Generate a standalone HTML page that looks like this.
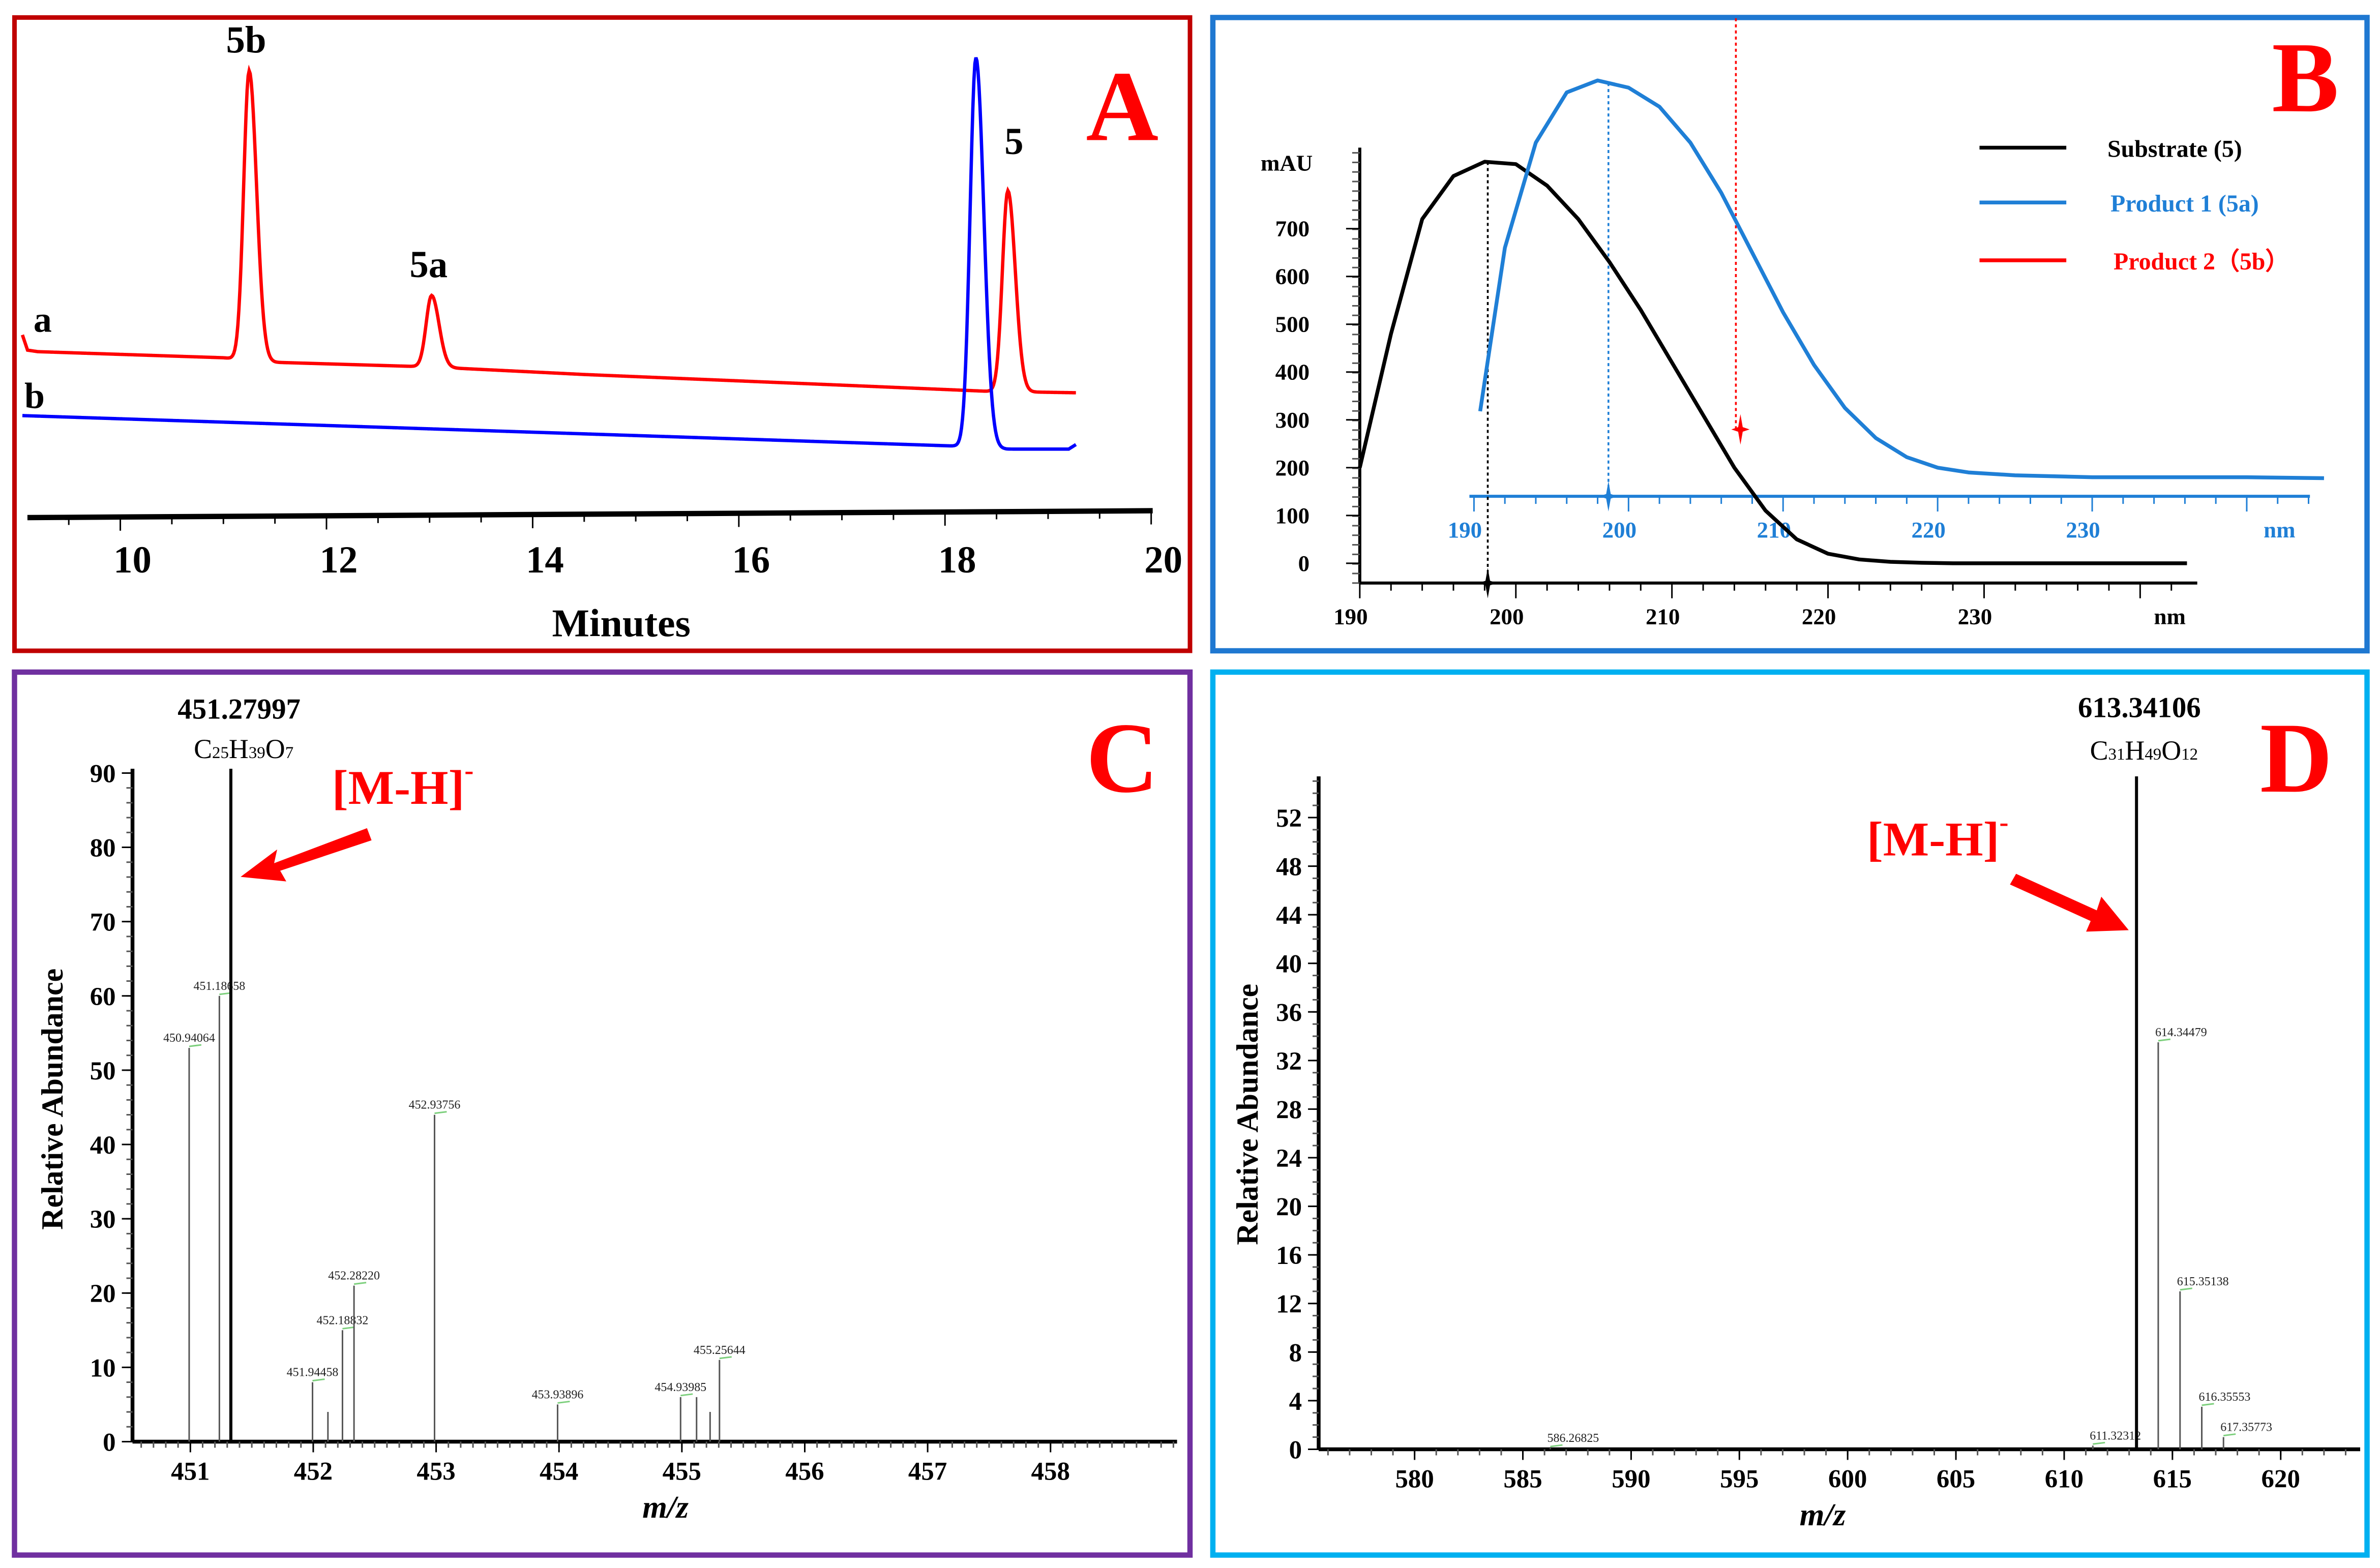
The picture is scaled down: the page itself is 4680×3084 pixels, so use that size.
<!DOCTYPE html>
<html><head><meta charset="utf-8"><style>
html,body{margin:0;padding:0;background:#fff;}
svg{display:block;}
text{font-family:"Liberation Serif",serif;}
</style></head><body>
<svg id="fig" width="4680" height="3084" viewBox="0 0 1563 1030" xmlns="http://www.w3.org/2000/svg">
<rect x="0" y="0" width="1563" height="1030" fill="#fff"/>
<rect x="9.5" y="11.5" width="772" height="416" fill="none" stroke="#c00000" stroke-width="3"/>
<rect x="796.5" y="11.5" width="758" height="416" fill="none" stroke="#1f78d1" stroke-width="3.5"/>
<rect x="9.5" y="441.5" width="772" height="580" fill="none" stroke="#7030a0" stroke-width="3.5"/>
<rect x="796.5" y="441.5" width="758" height="580" fill="none" stroke="#00b0f0" stroke-width="3.5"/>
<g id="gA"></g>
<g id="gB"></g>
<g id="gC"></g>
<g id="gD"></g>
</svg>
<script>
// ---------- Panel A data ----------
const aTicks = [10, 12, 14, 16, 18, 20];
const redPeakTimes = [11.25, 13.02, 18.61];
const redPeakHeights = [190, 47, 132];
const redPeakLabels = ['5b', '5a', '5'];
const redBaseTimes = [9.05, 9.1, 9.2, 11.0, 11.5, 13.0, 14.5, 17.0, 18.4, 19.27];
const redBaseVals = [116, 106, 105, 101, 98, 95, 90, 83, 79, 78];
const bluePeakTimes = [18.3];
const bluePeakHeights = [256];
const blueBaseTimes = [9.05, 14.5, 18.1, 18.6, 19.2, 19.27];
const blueBaseVals = [63, 51, 43, 41, 41, 44];
// ---------- Panel B data ----------
const bTicks = [190, 200, 210, 220, 230];
const bYTicks = [0, 100, 200, 300, 400, 500, 600, 700];
const subNm = [190, 192, 194, 196, 198, 200, 202, 204, 206, 208, 210, 212, 214, 216, 218, 220, 222, 224, 226, 228, 232, 243];
const subVal = [200, 480, 720, 810, 840, 835, 790, 720, 630, 530, 420, 310, 200, 110, 50, 20, 8, 3, 1, 0, 0, 0];
const p1Nm = [190.4, 192, 194, 196, 198, 200, 202, 204, 206, 208, 210, 212, 214, 216, 218, 220, 222, 225, 230, 240, 245];
const p1Val = [318, 660, 880, 985, 1010, 995, 955, 880, 775, 650, 525, 415, 325, 262, 222, 200, 190, 184, 180, 180, 178];
const subMaxNm = 198.2, p1MaxNm = 198.7, p2Nm = 214.6, p2Val = 280;
// ---------- Panel C data ----------
const cTicks = [451, 452, 453, 454, 455, 456, 457, 458];
const cYTicks = [0, 10, 20, 30, 40, 50, 60, 70, 80, 90];
const cMz = [450.94064, 451.18658, 451.27997, 451.94458, 452.07, 452.18832, 452.28220, 452.93756, 453.93896, 454.93985, 455.07, 455.18, 455.25644];
const cAb = [53, 60, 91, 8, 4, 15, 21, 44, 5, 6, 6, 4, 11];
const cLab = ['450.94064', '451.18658', '', '451.94458', '', '452.18832', '452.28220', '452.93756', '453.93896', '454.93985', '', '', '455.25644'];
// ---------- Panel D data ----------
const dTicks = [580, 585, 590, 595, 600, 605, 610, 615, 620];
const dYTicks = [0, 4, 8, 12, 16, 20, 24, 28, 32, 36, 40, 44, 48, 52];
const dMz = [586.26825, 611.32312, 613.34106, 614.34479, 615.35138, 616.35553, 617.35773];
const dAb = [0.1, 0.3, 55, 33.5, 13, 3.5, 1];
const dLab = ['586.26825', '611.32312', '', '614.34479', '615.35138', '616.35553', '617.35773'];

const NS = 'http://www.w3.org/2000/svg';
function mk(parent, tag, attrs, txt) {
  const e = document.createElementNS(NS, tag);
  for (const k in attrs) e.setAttribute(k, attrs[k]);
  if (txt !== undefined) e.textContent = txt;
  parent.appendChild(e);
  return e;
}
function interp(xs, ys, x) {
  if (x <= xs[0]) return ys[0];
  for (let i = 1; i < xs.length; i++) if (x <= xs[i]) { const f = (x - xs[i-1]) / (xs[i] - xs[i-1]); return ys[i-1] + f * (ys[i] - ys[i-1]); }
  return ys[ys.length - 1];
}

// ================= Panel A =================
(function () {
  const g = document.getElementById('gA');
  const xA = t => 79 + (t - 10) * 67.7;
  const yA = v => 336 - v;
  let ax = mk(g, 'line', {x1: 18, y1: 340, x2: 757, y2: 335.5, stroke: '#000', 'stroke-width': 3.5});
   
  for (let t = 9; t <= 20; t += 0.5) {
    const x = xA(t); if (x < 18) continue;
    const y = 340 - (x - 18) * 4.5 / 739;
    const major = Math.abs(t - Math.round(t / 2) * 2) < 1e-6;
    const tk = mk(g, 'line', {x1: x, y1: y, x2: x, y2: y + (major ? 9 : 5), stroke: '#000', 'stroke-width': 1});
     
  }
  aTicks.forEach(t => {
    const l = mk(g, 'text', {x: xA(t) + 8, y: 376, 'font-size': 25, 'font-weight': 'bold', 'text-anchor': 'middle'}, String(t));
     
  });
  const tl = mk(g, 'text', {x: 408, y: 418, 'font-size': 26, 'font-weight': 'bold', 'text-anchor': 'middle'}, 'Minutes');
   

  function trace(bt, bv, pt, ph, w, t0, t1) {
    let d = '';
    for (let t = t0; t <= t1 + 1e-9; t += 0.01) {
      let v = interp(bt, bv, t);
      for (let i = 0; i < pt.length; i++) {
        const dt = t - pt[i]; const ww = dt > 0 ? w * 1.35 : w;
        v += ph[i] * Math.exp(-(dt / ww) * (dt / ww));
      }
      d += (d ? 'L' : 'M') + xA(t).toFixed(2) + ',' + yA(v).toFixed(2);
    }
    return d;
  }
  const red = mk(g, 'path', {d: trace(redBaseTimes, redBaseVals, redPeakTimes, redPeakHeights, 0.075, 9.05, 19.27), fill: 'none', stroke: '#ff0000', 'stroke-width': 2.2});
   
  const blue = mk(g, 'path', {d: trace(blueBaseTimes, blueBaseVals, bluePeakTimes, bluePeakHeights, 0.08, 9.05, 19.27), fill: 'none', stroke: '#0000ff', 'stroke-width': 2.2});
   
  redPeakTimes.forEach((t, i) => {
    const top = yA(interp(redBaseTimes, redBaseVals, t) + redPeakHeights[i]);
    const l = mk(g, 'text', {x: xA(t) + (i === 2 ? 4 : -2), y: top - 12 - (i === 2 ? 12 : 0), 'font-size': 25, 'font-weight': 'bold', 'text-anchor': 'middle'}, redPeakLabels[i]);
     
  });
  let t1 = mk(g, 'text', {x: 22, y: 218, 'font-size': 24, 'font-weight': 'bold'}, 'a');
   
  let t2 = mk(g, 'text', {x: 16, y: 268, 'font-size': 24, 'font-weight': 'bold'}, 'b');
   
  let pl = mk(g, 'text', {x: 737, y: 92, 'font-size': 66, 'font-weight': 'bold', fill: '#ff0000', 'text-anchor': 'middle'}, 'A');
   
})();

// ================= Panel B =================
(function () {
  const g = document.getElementById('gB');
  const xK = nm => 893 + (nm - 190) * 10.25;
  const xBl = nm => 968 + (nm - 190) * 10.15;
  const yB = v => 370 - v * 0.314;
  let a = mk(g, 'line', {x1: 893, y1: 97, x2: 893, y2: 383, stroke: '#000', 'stroke-width': 2});
   
  for (let y = 383; y >= 100; y -= 6.28) {
    const tk = mk(g, 'line', {x1: 888, y1: y, x2: 893, y2: y, stroke: '#555', 'stroke-width': 1});
     
  }
  bYTicks.forEach(v => {
    const tk = mk(g, 'line', {x1: 884, y1: yB(v), x2: 893, y2: yB(v), stroke: '#000', 'stroke-width': 1});
     
    const l = mk(g, 'text', {x: 860, y: yB(v) + 5, 'font-size': 15, 'font-weight': 'bold', 'text-anchor': 'end'}, String(v));
     
  });
  let mau = mk(g, 'text', {x: 845, y: 112, 'font-size': 15, 'font-weight': 'bold', 'text-anchor': 'middle'}, 'mAU');
   
  let xa = mk(g, 'line', {x1: 893, y1: 383, x2: 1443, y2: 383, stroke: '#000', 'stroke-width': 2});
   
  for (let nm = 190; nm <= 243; nm += 2) {
    const tk = mk(g, 'line', {x1: xK(nm), y1: 383, x2: xK(nm), y2: 383 + (nm % 10 === 0 ? 10 : 5), stroke: '#000', 'stroke-width': 1});
     
  }
  bTicks.forEach(nm => {
    const l = mk(g, 'text', {x: xK(nm) - 6, y: 410, 'font-size': 15, 'font-weight': 'bold', 'text-anchor': 'middle'}, String(nm));
     
  });
  let nmL = mk(g, 'text', {x: 1425, y: 410, 'font-size': 15, 'font-weight': 'bold', 'text-anchor': 'middle'}, 'nm');
   
  let bx = mk(g, 'line', {x1: 965, y1: 326, x2: 1517, y2: 326, stroke: '#1f7fd6', 'stroke-width': 2});
   
  for (let nm = 190; nm <= 244; nm += 2) {
    const tk = mk(g, 'line', {x1: xBl(nm), y1: 326, x2: xBl(nm), y2: 326 + (nm % 10 === 0 ? 10 : 5), stroke: '#1f7fd6', 'stroke-width': 1});
     
  }
  bTicks.forEach(nm => {
    const l = mk(g, 'text', {x: xBl(nm) - 6, y: 353, 'font-size': 15, 'font-weight': 'bold', fill: '#1f7fd6', 'text-anchor': 'middle'}, String(nm));
     
  });
  let nmB = mk(g, 'text', {x: 1497, y: 353, 'font-size': 15, 'font-weight': 'bold', fill: '#1f7fd6', 'text-anchor': 'middle'}, 'nm');
   
  let v1 = mk(g, 'line', {x1: xK(subMaxNm), y1: yB(interp(subNm, subVal, subMaxNm)), x2: xK(subMaxNm), y2: 383, stroke: '#000', 'stroke-width': 1.2, 'stroke-dasharray': '2,2'});
   
  let v2 = mk(g, 'line', {x1: xBl(p1MaxNm), y1: yB(interp(p1Nm, p1Val, p1MaxNm)), x2: xBl(p1MaxNm), y2: 326, stroke: '#1f7fd6', 'stroke-width': 1.2, 'stroke-dasharray': '2,2'});
   
  let v3 = mk(g, 'line', {x1: 1140, y1: 12, x2: 1140, y2: yB(p2Val), stroke: '#ff0000', 'stroke-width': 1.2, 'stroke-dasharray': '2,2'});
   
  function star(x, y, c, nm) {
    const s = mk(g, 'path', {d: `M${x},${y-10}L${x+1.5},${y-1.5}L${x+6},${y}L${x+1.5},${y+1.5}L${x},${y+10}L${x-1.5},${y+1.5}L${x-6},${y}L${x-1.5},${y-1.5}Z`, fill: c});
     
  }
  star(xK(subMaxNm), 383, '#000', 'marker-substrate');
  star(xBl(p1MaxNm), 326, '#1f7fd6', 'marker-product1');
  star(1143, yB(p2Val), '#ff0000', 'marker-product2');
  let d = '';
  subNm.forEach((nm, i) => { d += (i ? 'L' : 'M') + xK(nm).toFixed(2) + ',' + yB(subVal[i]).toFixed(2); });
  let s1 = mk(g, 'path', {d: d, fill: 'none', stroke: '#000', 'stroke-width': 2.5, 'stroke-linejoin': 'round'});
   
  d = '';
  p1Nm.forEach((nm, i) => { d += (i ? 'L' : 'M') + xBl(nm).toFixed(2) + ',' + yB(p1Val[i]).toFixed(2); });
  let s2 = mk(g, 'path', {d: d, fill: 'none', stroke: '#1f7fd6', 'stroke-width': 2.5, 'stroke-linejoin': 'round'});
   
  const legC = ['#000', '#1f7fd6', '#ff0000'];
  const legT = ['Substrate (5)', 'Product 1 (5a)', 'Product 2（5b）'];
  const legY = [97, 133, 171];
  legT.forEach((t, i) => {
    const ln = mk(g, 'line', {x1: 1300, y1: legY[i], x2: 1357, y2: legY[i], stroke: legC[i], 'stroke-width': 2.5});
     
    const tx = mk(g, 'text', {x: 1384 + i * 2, y: legY[i] + 6, 'font-size': 16, 'font-weight': 'bold', fill: legC[i], 'font-family': '"Liberation Serif","Noto Serif CJK SC",serif'}, t);
     
  });
  let pl = mk(g, 'text', {x: 1514, y: 73, 'font-size': 66, 'font-weight': 'bold', fill: '#ff0000', 'text-anchor': 'middle'}, 'B');
   
})();

// ================= Mass spectra =================
function spectrum(g, o) {
  const xS = m => o.x0 + (m - o.m0) * o.kx;
  const yS = v => o.y0 - v * o.ky;
  const maxAb = Math.max.apply(null, o.ab);
  let ya = mk(g, 'line', {x1: o.ax, y1: o.yTop, x2: o.ax, y2: o.y0, stroke: '#000', 'stroke-width': 2.5});
   
  let xa = mk(g, 'line', {x1: o.ax, y1: o.y0, x2: o.axEnd, y2: o.y0, stroke: '#000', 'stroke-width': 2.5});
   
  for (let v = 0; yS(v) >= o.yTop; v += o.yMinor) {
    const tk = mk(g, 'line', {x1: o.ax - 4, y1: yS(v), x2: o.ax, y2: yS(v), stroke: '#555', 'stroke-width': 1});
     
  }
  o.yTicks.forEach(v => {
    const tk = mk(g, 'line', {x1: o.ax - 7, y1: yS(v), x2: o.ax, y2: yS(v), stroke: '#000', 'stroke-width': 1});
     
    const l = mk(g, 'text', {x: o.ax - 11, y: yS(v) + 6, 'font-size': 17, 'font-weight': 'bold', 'text-anchor': 'end'}, String(v));
     
  });
  for (let m = o.mMinorStart; o.tx0 + (m - o.m0) * o.tkx <= o.axEnd; m += o.xMinor) {
    const x = o.tx0 + (m - o.m0) * o.tkx;
    if (x < o.ax) continue;
    const tk = mk(g, 'line', {x1: x, y1: o.y0, x2: x, y2: o.y0 + 4, stroke: '#555', 'stroke-width': 1});
     
  }
  o.xTicks.forEach(m => {
    const x = o.tx0 + (m - o.m0) * o.tkx;
    const tk = mk(g, 'line', {x1: x, y1: o.y0, x2: x, y2: o.y0 + 7, stroke: '#000', 'stroke-width': 1});
     
    const l = mk(g, 'text', {x: x, y: o.y0 + 25, 'font-size': 17, 'font-weight': 'bold', 'text-anchor': 'middle'}, String(m));
     
  });
  const xt = mk(g, 'text', {x: o.xTitleX, y: o.y0 + 50, 'font-size': 21, 'font-weight': 'bold', 'font-style': 'italic', 'text-anchor': 'middle'}, 'm/z');
   
  const yt = mk(g, 'text', {x: 0, y: 0, 'font-size': 20, 'font-weight': 'bold', 'text-anchor': 'middle', transform: `translate(${o.yTitleX},${o.yTitleY}) rotate(-90)`}, 'Relative Abundance');
   
  o.mz.forEach((m, i) => {
    const main = o.ab[i] === maxAb;
    const top = main ? o.yTop : yS(o.ab[i]);
    const b = mk(g, 'line', {x1: xS(m), y1: o.y0, x2: xS(m), y2: top, stroke: main ? '#000' : '#555', 'stroke-width': main ? 2 : 1});
     
    if (o.lab[i]) {
      const gl = mk(g, 'line', {x1: xS(m), y1: top - 1, x2: xS(m) + 8, y2: top - 2, stroke: '#7ccf7c', 'stroke-width': 1});
       
      const l = mk(g, 'text', {x: xS(m) + (o.labDx || 0), y: top - 4, 'font-size': 8, fill: '#222', 'text-anchor': o.labAnchor || 'middle', 'font-family': '"Liberation Sans",sans-serif'}, o.lab[i]);
       
    }
  });
  return xS;
}

(function () {
  const g = document.getElementById('gC');
  spectrum(g, {x0: 129, m0: 451, kx: 80.7, tx0: 125, tkx: 80.7, y0: 947, ky: 4.88, ax: 87, axEnd: 773, yTop: 505,
    yTicks: cYTicks, yMinor: 2, xTicks: cTicks, xMinor: 0.1, mMinorStart: 450.5,
    mz: cMz, ab: cAb, lab: cLab, xTitleX: 437, yTitleX: 41, yTitleY: 722});
  const m1 = mk(g, 'text', {x: 157, y: 472, 'font-size': 19, 'font-weight': 'bold', 'text-anchor': 'middle'}, '451.27997');
   
  const f = mk(g, 'text', {x: 160, y: 498, 'font-size': 18, 'text-anchor': 'middle'});
   
  f.innerHTML = 'C<tspan font-size="11">25</tspan>H<tspan font-size="11">39</tspan>O<tspan font-size="11">7</tspan>';
  const mh = mk(g, 'text', {x: 218, y: 528, 'font-size': 32, 'font-weight': 'bold', fill: '#ff0000'});
   
  mh.innerHTML = '[M-H]<tspan font-size="18" dy="-16">-</tspan>';
  const ar = mk(g, 'path', {d: 'M241,544 L180,567 L182,558 L158,576 L188,579 L184,572 L244,552 Z', fill: '#ff0000'});
   
  const pl = mk(g, 'text', {x: 737, y: 520, 'font-size': 66, 'font-weight': 'bold', fill: '#ff0000', 'text-anchor': 'middle'}, 'C');
   
})();

(function () {
  const g = document.getElementById('gD');
  spectrum(g, {x0: 929, m0: 580, kx: 14.22, tx0: 929, tkx: 14.22, y0: 952, ky: 7.98, ax: 866, axEnd: 1550, yTop: 510,
    yTicks: dYTicks, yMinor: 1, xTicks: dTicks, xMinor: 1, mMinorStart: 576,
    mz: dMz, ab: dAb, lab: dLab, labAnchor: 'start', labDx: -2, xTitleX: 1197, yTitleX: 826, yTitleY: 732});
  const m1 = mk(g, 'text', {x: 1405, y: 471, 'font-size': 19, 'font-weight': 'bold', 'text-anchor': 'middle'}, '613.34106');
   
  const f = mk(g, 'text', {x: 1408, y: 499, 'font-size': 18, 'text-anchor': 'middle'});
   
  f.innerHTML = 'C<tspan font-size="11">31</tspan>H<tspan font-size="11">49</tspan>O<tspan font-size="11">12</tspan>';
  const mh = mk(g, 'text', {x: 1226, y: 562, 'font-size': 32, 'font-weight': 'bold', fill: '#ff0000'});
   
  mh.innerHTML = '[M-H]<tspan font-size="18" dy="-16">-</tspan>';
  const ar = mk(g, 'path', {d: 'M1324,574 L1377,598 L1380,589 L1398,611 L1370,612 L1373,605 L1320,581 Z', fill: '#ff0000'});
   
  const pl = mk(g, 'text', {x: 1508, y: 520, 'font-size': 66, 'font-weight': 'bold', fill: '#ff0000', 'text-anchor': 'middle'}, 'D');
   
})();
</script>
</body></html>
